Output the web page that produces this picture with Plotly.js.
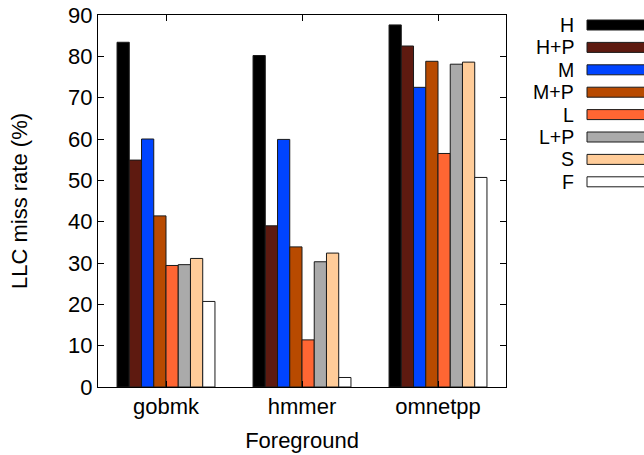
<!DOCTYPE html>
<html>
<head>
<meta charset="utf-8">
<script src="https://cdn.plot.ly/plotly-3.0.1.min.js"></script>
<style>html,body{margin:0;padding:0;background:#fff;}#chart{width:644px;height:455px;}</style>
</head>
<body>
<div id="chart"></div>
<script>
const categories = ["gobmk", "hmmer", "omnetpp"];
const seriesNames = ["H", "H+P", "M", "M+P", "L", "L+P", "S", "F"];
const H   = [83.4, 80.2, 87.6];
const HP  = [54.9, 39.0, 82.5];
const M   = [60.0, 59.9, 72.5];
const MP  = [41.4, 33.9, 78.8];
const L   = [29.4, 11.4, 56.5];
const LP  = [29.6, 30.3, 78.1];
const S   = [31.1, 32.4, 78.6];
const F   = [20.7, 2.3, 50.7];
const seriesValues = [H, HP, M, MP, L, LP, S, F];
const colors = ["#000000", "#5e1a10", "#0044ff", "#b84a00", "#ff6633", "#aaaaaa", "#ffcc99", "#ffffff"];
const yTicks = [0, 10, 20, 30, 40, 50, 60, 70, 80, 90];

const font = {family: "Liberation Sans, Arial, sans-serif", size: 22, color: "#000"};
const legFont = {family: "Liberation Sans, Arial, sans-serif", size: 19.5, color: "#000"};
const W = 644, Hh = 455;
const mL = 98, mR = 138, mT = 15, mB = 68;
const plotW = W - mL - mR, plotH = Hh - mT - mB;

const traces = seriesNames.map((n, i) => ({
  type: "bar",
  name: n,
  x: categories,
  y: seriesValues[i],
  marker: {color: colors[i], line: {color: "#1a1a1a", width: 1}},
  showlegend: false,
  hoverinfo: "none"
}));

// custom legend (label right-aligned left of swatch, as in gnuplot)
const shapes = [], annotations = [];
const px2x = p => (p - mL) / plotW;
const py2y = p => (Hh - mB - p) / plotH;
seriesNames.forEach((n, i) => {
  const yc = 25 + i * 22.4;
  shapes.push({type: "rect", xref: "paper", yref: "paper",
    x0: px2x(587), x1: px2x(660), y0: py2y(yc + 5), y1: py2y(yc - 5),
    fillcolor: colors[i], line: {color: "#1a1a1a", width: 1}});
  annotations.push({xref: "paper", yref: "paper", x: px2x(575), y: py2y(yc),
    xanchor: "right", yanchor: "middle", text: n, showarrow: false,
    borderpad: 0, font: legFont});
});

const layout = {
  width: W, height: Hh,
  margin: {l: mL, r: mR, t: mT, b: mB},
  paper_bgcolor: "#fff", plot_bgcolor: "#fff",
  barmode: "group", bargap: 0.28, bargroupgap: 0,
  font: font,
  xaxis: {
    type: "category", range: [-0.5, 2.5],
    showline: true, linecolor: "#000", linewidth: 1, mirror: "ticks",
    ticks: "inside", ticklen: 6, tickcolor: "#000",
    tickfont: font, zeroline: false, showgrid: false,
    title: {text: "Foreground", font: font, standoff: 14}
  },
  yaxis: {
    range: [0, 90], tickvals: yTicks,
    showline: true, linecolor: "#000", linewidth: 1, mirror: "ticks",
    ticks: "inside", ticklen: 6, tickcolor: "#000",
    tickfont: font, zeroline: false, showgrid: false,
    title: {text: "LLC miss rate (%)", font: font, standoff: 34}
  },
  shapes: shapes,
  annotations: annotations
};

Plotly.newPlot("chart", traces, layout, {displayModeBar: false, staticPlot: true});
</script>
</body>
</html>
